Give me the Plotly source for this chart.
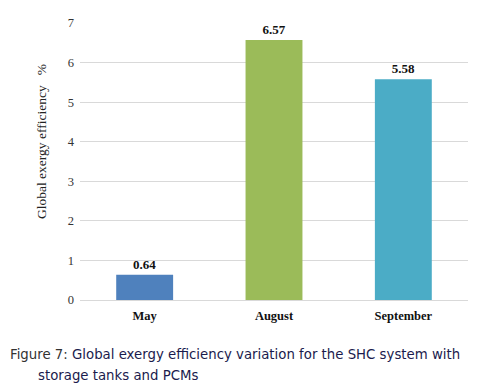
import plotly.graph_objects as go

categories = ["May", "August", "September"]
values = [0.64, 6.57, 5.58]
colors = ["#4F81BD", "#9BBB59", "#4BACC6"]
y_ticks = [0, 1, 2, 3, 4, 5, 6, 7]

OFF = 8  # default page body margin
W, H = 479 - OFF, 392 - OFF
L, T = 80 - OFF, 16 - OFF
pw = 388
plot_bottom = 300 - OFF
R = W - L - pw
B = H - plot_bottom
ph = plot_bottom - T


def px_x(x):
    return (x - OFF - L) / pw


def px_y(y):
    return (plot_bottom - (y - OFF)) / ph


fig = go.Figure()
fig.add_trace(go.Bar(
    x=categories, y=values,
    marker=dict(color=colors, line=dict(width=0)),
    text=[f"{v:.2f}" for v in values],
    textposition="outside",
    textfont=dict(family="Liberation Serif", size=13, color="#111111"),
    texttemplate="<b>%{text}</b>",
    cliponaxis=False,
    hoverinfo="skip",
))

fig.update_layout(
    width=W, height=H,
    margin=dict(l=L, r=R, t=T, b=B),
    paper_bgcolor="white", plot_bgcolor="white",
    bargap=0.56,
    showlegend=False,
    xaxis=dict(
        tickfont=dict(family="Liberation Serif", size=12.5, color="#111111"),
        tickvals=categories,
        ticktext=[f"<b>{c}</b>" for c in categories],
        showline=False, ticks="", showgrid=False,
        ticklabelstandoff=6,
    ),
    yaxis=dict(
        range=[0, 7], tickvals=y_ticks,
        tickfont=dict(family="Liberation Serif", size=12.5, color="#333333"),
        showgrid=True, gridcolor="#d9d9d9", gridwidth=1,
        zeroline=True, zerolinecolor="#d9d9d9", zerolinewidth=1,
        ticks="", ticklen=0, showline=False,
        ticklabelstandoff=5,
    ),
    annotations=[
        dict(text="Global exergy efficiency\u00a0\u00a0\u00a0%", textangle=-90,
             xref="paper", yref="paper", x=px_x(42), y=px_y(138),
             xanchor="center", yanchor="middle", showarrow=False,
             font=dict(family="Liberation Serif", size=13.5, color="#222222")),
        dict(text="<span style='color:#333333'>Figure 7:</span> Global exergy efficiency variation for the SHC system with",
             xref="paper", yref="paper", x=px_x(8), y=px_y(356),
             xanchor="left", yanchor="middle", showarrow=False,
             font=dict(family="DejaVu Sans", size=13.3, color="#1b1b4d")),
        dict(text="storage tanks and PCMs",
             xref="paper", yref="paper", x=px_x(36), y=px_y(377),
             xanchor="left", yanchor="middle", showarrow=False,
             font=dict(family="DejaVu Sans", size=13.3, color="#1b1b4d")),
    ],
)

fig.write_html("out.html")
